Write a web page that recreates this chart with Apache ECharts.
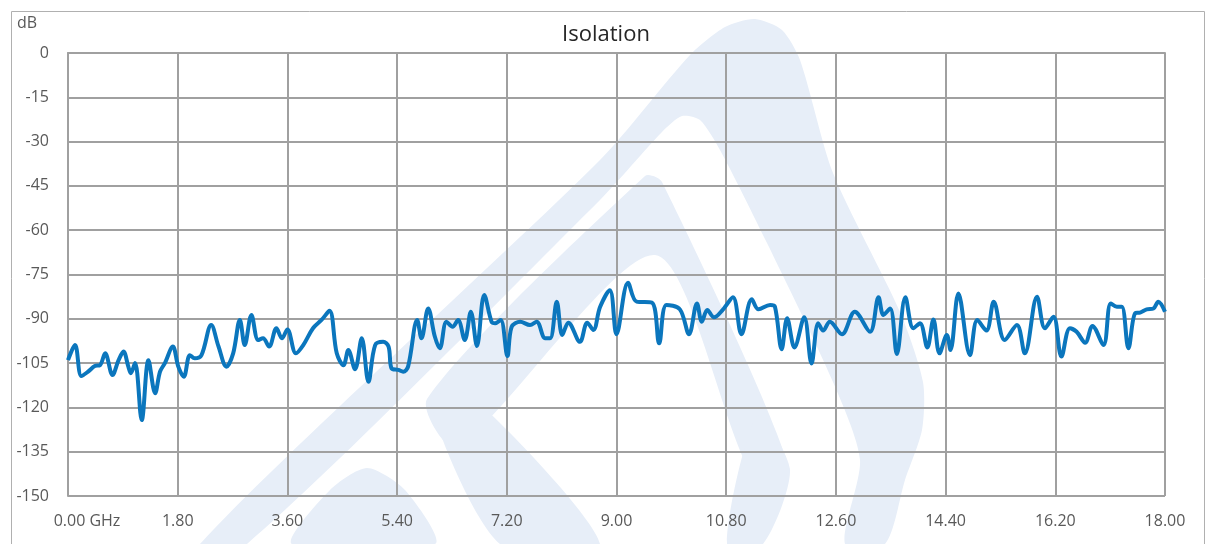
<!DOCTYPE html>
<html><head><meta charset="utf-8">
<script src="https://cdn.jsdelivr.net/npm/echarts@6/dist/echarts.min.js"></script>
<style>html,body{margin:0;padding:0;background:#fff}#c{width:1212px;height:544px}</style>
</head><body><div id="c"></div>
<script>
const freqGHz = [0,0.115,0.22,0.33,0.44,0.525,0.61,0.73,0.83,0.91,0.99,1.03,1.10,1.21,1.32,1.43,1.51,1.59,1.72,1.81,1.90,2.0,2.08,2.19,2.35,2.47,2.60,2.71,2.82,2.90,3.01,3.12,3.20,3.30,3.42,3.51,3.60,3.74,3.86,4.02,4.16,4.29,4.41,4.52,4.60,4.71,4.82,4.93,5.04,5.17,5.26,5.31,5.42,5.50,5.58,5.73,5.80,5.91,6.02,6.10,6.21,6.31,6.40,6.51,6.61,6.71,6.83,6.95,7.01,7.10,7.21,7.28,7.42,7.58,7.69,7.83,7.91,8.02,8.11,8.21,8.40,8.52,8.62,8.73,8.89,9.00,9.19,9.33,9.58,9.70,9.82,10.04,10.19,10.32,10.40,10.49,10.60,10.75,10.91,11.05,11.22,11.33,11.52,11.60,11.71,11.80,11.92,12.08,12.20,12.31,12.39,12.50,12.70,12.91,13.16,13.30,13.38,13.49,13.60,13.74,13.87,13.98,14.10,14.20,14.30,14.42,14.48,14.61,14.80,14.92,15.07,15.19,15.37,15.57,15.70,15.90,16.03,16.17,16.30,16.44,16.55,16.69,16.81,16.99,17.11,17.21,17.29,17.40,17.51,17.59,17.70,17.81,17.89,18.0];
const isolationDb = [-104,-98.9,-109.4,-107.9,-106,-105.7,-101.7,-109,-104,-101.1,-106.2,-108.4,-105,-124.3,-104,-115.2,-107.9,-105,-99.4,-106.2,-109.6,-102.3,-103.4,-102.3,-92.1,-99.4,-106.2,-101.7,-90.4,-98.9,-88.7,-97.2,-96.6,-99.4,-93.2,-96.6,-93.6,-101.7,-98.9,-93.2,-90.4,-87.3,-101.7,-105.7,-100.6,-107.1,-96.6,-111.3,-98.9,-97.8,-99.4,-106.8,-107.3,-107.9,-106.2,-90.4,-96.6,-86.5,-96.1,-100,-91,-92.7,-90.4,-97.2,-87.6,-99.2,-81.9,-91,-91.5,-90.4,-102.6,-92.7,-91,-92.1,-91,-96.6,-96.6,-84.2,-95.5,-91.3,-97.8,-91.3,-93.8,-86,-80.3,-95.2,-77.8,-84.2,-84.5,-98.3,-85.3,-86.8,-95.2,-84.8,-91,-87,-89.5,-86.8,-82.7,-95.2,-83.4,-86.8,-85.3,-85.9,-100.3,-89.8,-99.7,-89.5,-105.1,-91.5,-94,-91,-95.2,-87.6,-94.4,-82.7,-88.7,-86.5,-101.9,-82.7,-93.2,-91.5,-99.7,-90.2,-101.7,-95.5,-100.6,-81.4,-102.3,-90.4,-94,-84.2,-97.2,-92.1,-101.7,-82.5,-93.2,-89.3,-102.8,-93.2,-94.4,-98.1,-92.4,-98.9,-84.8,-85.9,-85.9,-100,-88.1,-87.9,-86.8,-86.5,-84.2,-87.6];
const xTicks = ['0.00 GHz','1.80','3.60','5.40','7.20','9.00','10.80','12.60','14.40','16.20','18.00'];
const yTicks = [0,-15,-30,-45,-60,-75,-90,-105,-120,-135,-150];
const chartTitle = 'Isolation';
const yUnit = 'dB';

const points = freqGHz.map((f,i)=>[f, isolationDb[i]]);
const FONT = '"Open Sans", "Liberation Sans", sans-serif';
const chart = echarts.init(document.getElementById('c'), null, {renderer:'canvas'});
const grey = '#a0a0a0';
const wm = '#e7eef8';
const poly = (pts)=>({type:'polygon', shape:{points:pts, smooth:0.25}, style:{fill:wm}, silent:true, zlevel:-1, z:0});
chart.setOption({
  animation:false,
  title:{text:chartTitle, left:'center', top:19, textStyle:{fontFamily:FONT, fontSize:22, fontWeight:'normal', color:'#262626'}},
  graphic:[
    {type:'rect', left:9, top:9, shape:{width:1193, height:560}, style:{fill:'none', stroke:'#b0b0b0', lineWidth:1}, silent:true},
    poly([[200,544],[600,160],[690,55],[725,27],[755,19],[782,30],[800,60],[833,173],[900,312],[923,382],[922,430],[905,480],[885,544],[845,544],[860,460],[833,382],[767,243],[720,150],[700,120],[682,116],[662,132],[600,200],[247,544]]),
    poly([[427,399],[645,176],[662,182],[790,470],[752,475],[655,255],[457,448]]),
    poly([[430,400],[470,395],[600,544],[500,544]]),
    poly([[292,544],[330,490],[367,468],[405,490],[435,544]]),
    poly([[757,416],[790,470],[763,544],[727,544]]),
    {type:'text', left:17, top:15, style:{text:yUnit, fontFamily:FONT, fontSize:16, fill:'#595959'}}
  ],
  grid:{left:68, right:47, top:53, bottom:48, containLabel:false},
  xAxis:{type:'value', min:0, max:18, interval:1.8,
    axisLine:{show:true, lineStyle:{color:grey, width:2}},
    axisTick:{show:false},
    splitLine:{show:true, lineStyle:{color:grey, width:2}},
    axisLabel:{margin:17, fontFamily:FONT, fontSize:16, color:'#595959', showMinLabel:true, showMaxLabel:true,
      rich:{first:{fontFamily:FONT, fontSize:16, color:'#595959', padding:[0,0,0,38]}},
      formatter:(v)=>{const i=Math.round(v/1.8); if(i===0) return '{first|'+xTicks[0]+'}'; return xTicks[i]!==undefined?xTicks[i]:'';}}
  },
  yAxis:{type:'value', min:-150, max:0, interval:15,
    axisLine:{show:true, lineStyle:{color:grey, width:2}},
    axisTick:{show:false},
    splitLine:{show:true, lineStyle:{color:grey, width:2}},
    axisLabel:{margin:19, fontFamily:FONT, fontSize:16, color:'#595959',
      formatter:(v)=>{const i=Math.round(-v/15); return yTicks[i]!==undefined?String(yTicks[i]):'';}}
  },
  series:[{type:'line', data:points, smooth:0.35, showSymbol:false,
    lineStyle:{color:'#0b76bd', width:4}, z:5}]
});
</script></body></html>
